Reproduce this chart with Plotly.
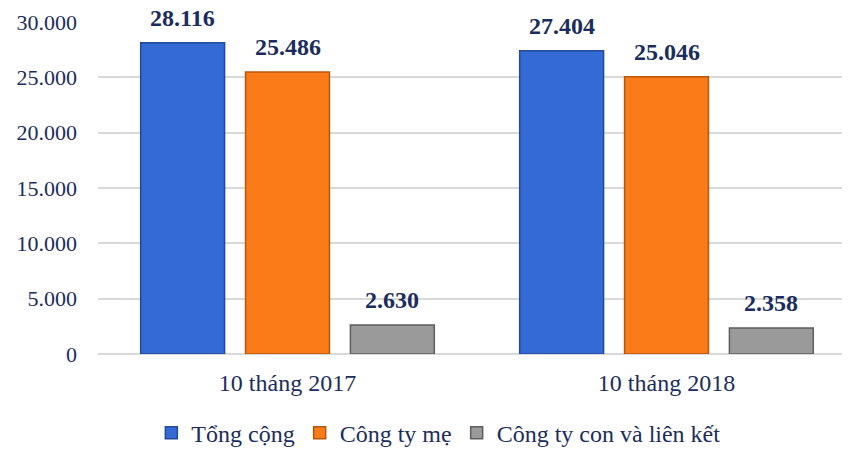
import plotly.graph_objects as go

categories = ["10 tháng 2017", "10 tháng 2018"]
series_names = ["Tổng cộng", "Công ty mẹ", "Công ty con và liên kết"]
tong_cong = [28116, 27404]
cong_ty_me = [25486, 25046]
cong_ty_con = [2630, 2358]
y_ticks = [0, 5000, 10000, 15000, 20000, 25000, 30000]

colors = ["#346AD6", "#FA7B18", "#9A9A9A"]
edges = ["#24489A", "#B5570D", "#5E5E5E"]
navy = "#1B2D5E"

W, H = 850, 449
ML, MR, MT, MB = 90, 2, 14, 103
BARGAP, GROUPGAP = 0.17, 0.2

fig = go.Figure()
all_series = [tong_cong, cong_ty_me, cong_ty_con]
for name, vals, c, e in zip(series_names, all_series, colors, edges):
    fig.add_trace(go.Bar(
        x=categories, y=vals, name=name,
        marker=dict(color=c, line=dict(color=e, width=1.5)),
        hoverinfo="x+y+name",
    ))

# value labels above bars, offset to match grouped bar slots
plot_w = W - ML - MR
cat_w = plot_w / len(categories)
slot = cat_w * (1 - BARGAP) / len(all_series)
annotations = []
for i, vals in enumerate(all_series):
    off = (i - (len(all_series) - 1) / 2) * slot
    for cat, v in zip(categories, vals):
        annotations.append(dict(
            x=cat, y=v, xref="x", yref="y", xshift=off, yshift=11,
            yanchor="bottom", showarrow=False, borderpad=0,
            text="<b>" + f"{v:,}".replace(",", ".") + "</b>",
            font=dict(family="Liberation Serif", size=24, color=navy),
        ))

fig.update_layout(
    width=W, height=H,
    margin=dict(l=ML, r=MR, t=MT, b=MB),
    paper_bgcolor="white", plot_bgcolor="white",
    separators=",.",
    barmode="group", bargap=BARGAP, bargroupgap=GROUPGAP,
    font=dict(family="Liberation Serif", color=navy, size=20),
    showlegend=True,
    annotations=annotations,
    legend=dict(orientation="h", x=0.449, xanchor="center",
                yref="container", y=0.053, yanchor="middle",
                font=dict(family="Liberation Serif", size=24, color=navy),
                itemwidth=30, traceorder="normal"),
    xaxis=dict(showline=False, ticks="", automargin=False,
               tickfont=dict(family="Liberation Serif", size=24, color=navy),
               ticklabelstandoff=12),
    yaxis=dict(range=[0, 30000], tickvals=y_ticks, tickformat=",d", automargin=False,
               showgrid=True, gridcolor="#D9D9D9", gridwidth=1.5,
               zeroline=True, zerolinecolor="#D9D9D9", zerolinewidth=1.5,
               tickfont=dict(family="Liberation Serif", size=22, color=navy),
               ticklabelstandoff=20),
)

fig.write_html("out.html")
